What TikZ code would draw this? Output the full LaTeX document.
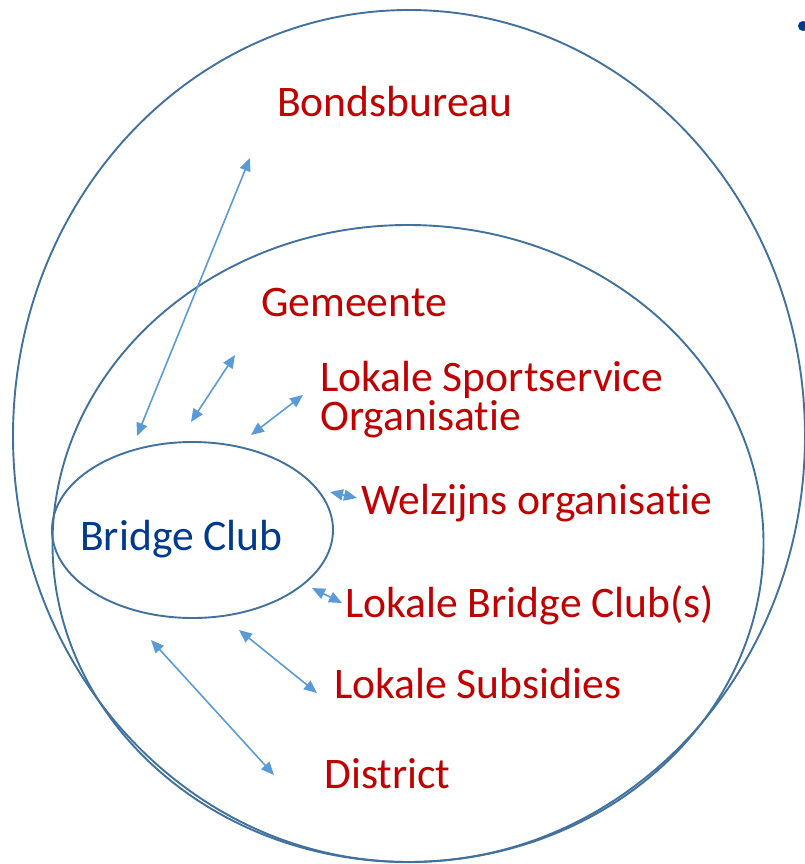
\documentclass[tikz,border=0pt]{standalone}
\usepackage{fontspec}
\setmainfont{Carlito}[Ligatures={NoCommon}]
\usetikzlibrary{arrows.meta,shapes.geometric}
\definecolor{ringblue}{RGB}{65,113,156}
\definecolor{arrowblue}{RGB}{91,155,213}
\definecolor{labelred}{RGB}{192,0,0}
\definecolor{clubblue}{RGB}{0,58,140}
\tikzset{
  ring/.style={draw=ringblue, line width=1.9pt},
  lbl/.style={anchor=base west, inner sep=0pt, text=labelred, font=\fontsize{43.6}{39}\selectfont, align=left},
  link/.style={draw=arrowblue, line width=1.6pt,
    {Triangle[length=13pt,width=11pt]}-{Triangle[length=13pt,width=11pt]}}
}
\begin{document}
\begin{tikzpicture}[x=1pt,y=-1pt]
\useasboundingbox (0,0) rectangle (805,864);
% rings
\draw[ring] (409,436) ellipse [x radius=396, y radius=426];
\draw[ring] (408,543.5) ellipse [x radius=355.5, y radius=318.5];
\node[ring, ellipse, minimum width=281pt, minimum height=176pt, inner sep=0pt] (club) at (192.5,530) {};
\node[anchor=base west, inner sep=0pt, text=clubblue, font=\fontsize{43.6}{39}\selectfont] (clubtxt) at (80,550) {Bridge Club};
% bullet
\fill[clubblue] (803,26) circle [radius=5];
% labels
\node[lbl] (bonds) at (277,116.5) {Bondsbureau};
\node[lbl] (gem) at (261,316.5) {Gemeente};
\node[lbl] (sport) at (320,430) {Lokale Sportservice\\Organisatie};
\node[lbl] (welz) at (361,514) {Welzijns organisatie};
\node[lbl] (lbc) at (345,617) {Lokale Bridge Club(s)};
\node[lbl] (subs) at (334,698) {Lokale Subsidies};
\node[lbl] (dist) at (324,788) {District};
% arrow end points
\coordinate (b1) at (137,436);  \coordinate (b2) at (250,158);
\coordinate (g1) at (191,422);  \coordinate (g2) at (235,355);
\coordinate (s1) at (251,435);  \coordinate (s2) at (303,395);
\coordinate (w1) at (330,492);  \coordinate (w2) at (357,498);
\coordinate (l1) at (312,588);  \coordinate (l2) at (342,603);
\coordinate (u1) at (239,630);  \coordinate (u2) at (317,693);
\coordinate (d1) at (151,640);  \coordinate (d2) at (274,775);
% arrows
\draw[link] (b1) -- (b2);
\draw[link] (g1) -- (g2);
\draw[link] (s1) -- (s2);
\draw[link] (w1) -- (w2);
\draw[link] (l1) -- (l2);
\draw[link] (u1) -- (u2);
\draw[link] (d1) -- (d2);
\end{tikzpicture}
\end{document}
